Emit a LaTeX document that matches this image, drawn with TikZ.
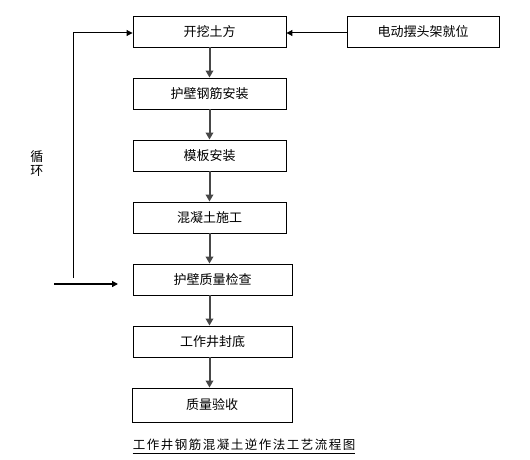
\documentclass[tikz,border=0pt]{standalone}
\usepackage{fontspec}
\newfontfamily\cjk{Noto Sans CJK SC}
\newfontfamily\cjktitle[LetterSpace=12]{Noto Sans CJK SC}
\usetikzlibrary{arrows.meta}
\begin{document}
\begin{tikzpicture}[x=1pt,y=-1pt,
  box/.style={draw=black,line width=0.9pt,rectangle,minimum height=31pt,inner sep=0pt,font=\cjk\fontsize{13}{15}\selectfont},
  flow/.style={draw=black!72,line width=2pt,-{Triangle[length=7pt,width=7.5pt]}},
  loop/.style={draw=black,line width=1pt,-{Triangle[length=6pt,width=6pt]}}]
\useasboundingbox (0,0) rectangle (530,460);
\node[box,minimum width=153pt] (b1) at (209.5,31.5) {开挖土方};
\node[box,minimum width=152pt] (dd) at (423,31.5) {电动摆头架就位};
\node[box,minimum width=153pt] (b2) at (209.5,93.5) {护壁钢筋安装};
\node[box,minimum width=153pt] (b3) at (209.5,155.5) {模板安装};
\node[box,minimum width=153pt] (b4) at (209.5,217.5) {混凝土施工};
\node[box,minimum width=159pt] (b5) at (212.5,279.5) {护壁质量检查};
\node[box,minimum width=159pt] (b6) at (212.5,341.5) {工作井封底};
\node[box,minimum width=160pt,minimum height=34pt] (b7) at (212,405) {质量验收};
\node[font=\cjk\fontsize{13}{14}\selectfont,align=center,inner sep=0pt] (lp) at (37,164) {循\\环};
\node[font=\cjktitle\fontsize{12.5}{14}\selectfont,inner sep=0pt,anchor=south] (tt) at (244,451) {工作井钢筋混凝土逆作法工艺流程图};
\draw[line width=0.8pt] (tt.south west) ++(0,2) coordinate (u1) -- (u1 -| tt.south east);
\draw[flow] (b1.south) -- (b2.north);
\draw[flow] (b2.south) -- (b3.north);
\draw[flow] (b3.south) -- (b4.north);
\draw[flow] (b4.south) -- (b4.south |- b5.north);
\draw[flow] (b5.south -| b1.south) -- (b6.north -| b1.south);
\draw[flow] (b6.south -| b1.south) -- (b7.north -| b1.south);
\coordinate (e1) at (dd.west |- 0,33);
\draw[loop] (e1) -- (e1 -| b1.east);
\coordinate (l0) at (73,278);
\coordinate (l1) at (73,33);
\draw[loop] (l0) -- (l1) -- (l1 -| b1.west);
\coordinate (a0) at (54,284);
\coordinate (a1) at (118,284);
\draw[loop,line width=1.3pt] (a0) -- (a1);
\end{tikzpicture}
\end{document}
